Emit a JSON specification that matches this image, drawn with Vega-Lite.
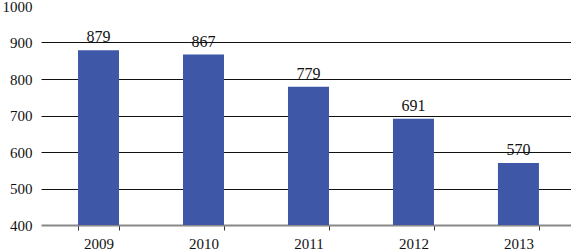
{
  "$schema": "https://vega.github.io/schema/vega-lite/v6.json",
  "autosize": {"type": "none"},
  "padding": {"left": 41, "top": 6, "right": 0, "bottom": 27},
  "width": 530,
  "height": 219,
  "background": "white",
  "config": {"view": {"stroke": null}, "font": "Liberation Serif"},
  "data": {"values": [
    {"year": "2009", "value": 879},
    {"year": "2010", "value": 867},
    {"year": "2011", "value": 779},
    {"year": "2012", "value": 691},
    {"year": "2013", "value": 570}
  ]},
  "encoding": {
    "x": {
      "field": "year", "type": "nominal",
      "scale": {"paddingInner": 0.6095, "paddingOuter": 0.329, "align": 0.536},
      "axis": {
        "title": null, "labelAngle": 0,
        "labelFont": "Liberation Serif", "labelFontSize": 15, "labelColor": "#111",
        "labelPadding": 6,
        "domainColor": "#888", "domainWidth": 2,
        "ticks": true, "tickBand": "extent", "tickColor": "#333", "tickSize": 5, "tickWidth": 1,
        "grid": false
      }
    },
    "y": {
      "field": "value", "type": "quantitative",
      "scale": {"domain": [400, 1000], "nice": false, "zero": false},
      "axis": {
        "title": null, "values": [400, 500, 600, 700, 800, 900, 1000], "format": "d",
        "labelOverlap": false, "labelFlush": false,
        "labelFont": "Liberation Serif", "labelFontSize": 15, "labelColor": "#111",
        "labelPadding": 9, "ticks": false, "domain": false,
        "grid": true, "gridColor": "#111", "gridWidth": 1,
        "gridOpacity": {"condition": {"test": "datum.value >= 1000 || datum.value <= 400", "value": 0}, "value": 1}
      }
    }
  },
  "layer": [
    {
      "mark": {"type": "bar", "color": "#3F57A7"},
      "encoding": {
        "y2": {"datum": 400}
      }
    },
    {
      "mark": {"type": "text", "dy": -8, "baseline": "alphabetic", "font": "Liberation Serif", "fontSize": 16, "color": "#111"},
      "encoding": {
        "text": {"field": "value", "type": "quantitative"}
      }
    }
  ]
}
